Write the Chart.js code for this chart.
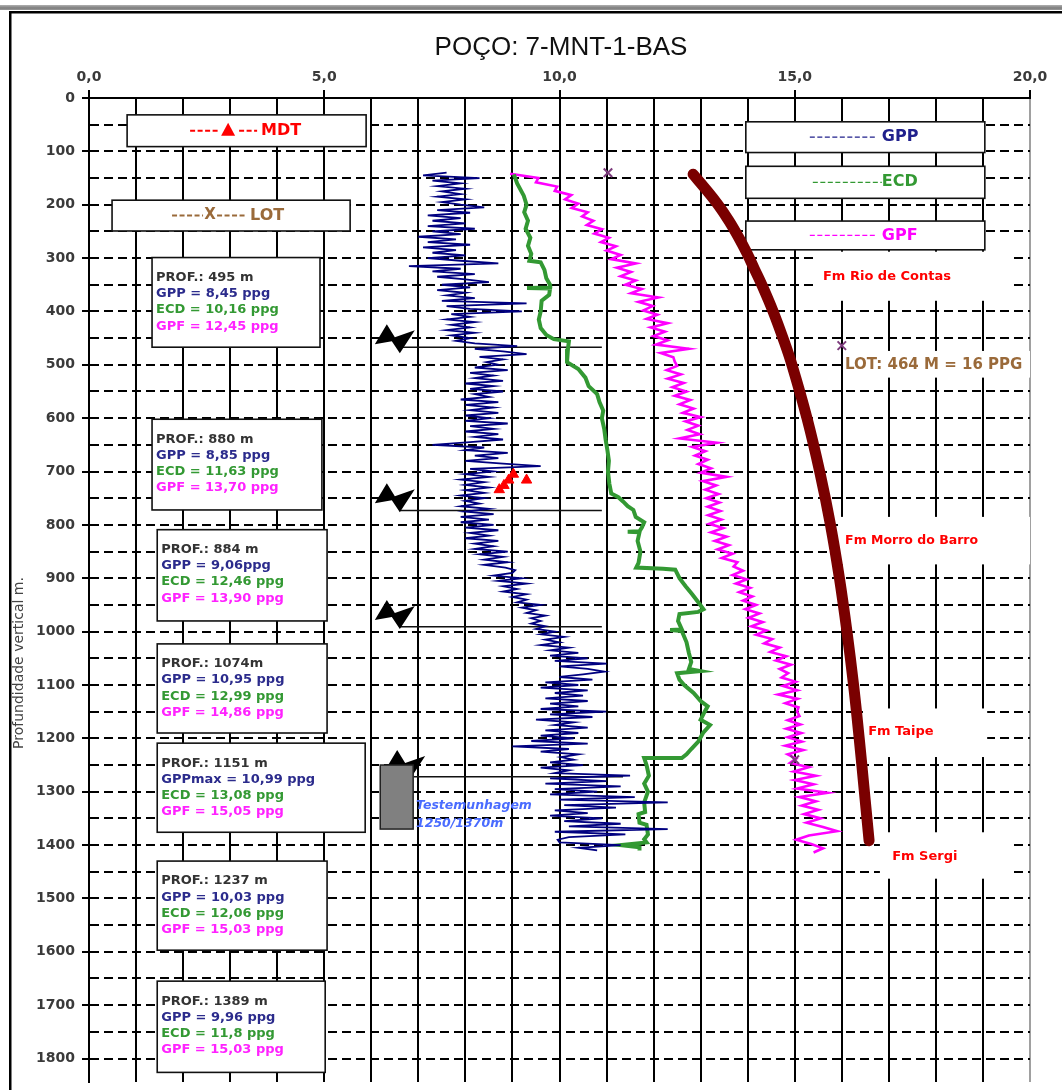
<!DOCTYPE html>
<html>
<head>
<meta charset="utf-8">
<script src="https://cdn.jsdelivr.net/npm/chart.js@4/dist/chart.umd.min.js"></script>
<style>
html, body { margin: 0; padding: 0; background: #fff; overflow: hidden; }
#wrap { width: 1062px; height: 1090px; }
</style>
</head>
<body>
<div id="wrap"><canvas id="well" width="1062" height="1090"></canvas></div>
<script>
// ---- Well 7-MNT-1-BAS : pressure window (ppg) versus vertical depth (m) ----
const chartTitle = 'POÇO: 7-MNT-1-BAS';
const depthAxisTitle = 'Profundidade vertical m.';

// GPP (pore pressure gradient) log, one sample every 5 m from 140 m
const gppTopM = 140, gppStepM = 5;
const gppPpg = [
  7.6, 7.1, 8.3, 7.3, 7.9, 7.4, 8.0, 7.5, 7.9, 7.4,
  8.0, 7.5, 7.9, 8.4, 7.4, 8.1, 7.2, 7.9, 7.3, 8.0,
  7.2, 8.2, 7.3, 7.9, 7.0, 7.8, 7.2, 8.1, 7.1, 7.8,
  7.3, 8.0, 7.2, 7.9, 8.7, 6.8, 7.9, 7.3, 8.2, 7.4,
  8.0, 8.5, 7.5, 8.1, 7.4, 8.0, 7.6, 8.2, 7.5, 9.3,
  7.6, 8.1, 9.2, 7.7, 8.1, 7.6, 8.2, 7.7, 8.1, 7.6,
  8.2, 7.7, 8.1, 7.8, 8.2, 9.1, 8.2, 8.8, 9.3, 8.3,
  8.8, 8.45, 8.7, 8.2, 8.9, 8.1, 8.6, 8.2, 8.8, 8.0,
  8.6, 8.1, 8.8, 8.2, 8.5, 7.9, 8.7, 8.0, 8.6, 8.1,
  8.7, 8.0, 8.5, 8.0, 8.9, 8.1, 8.6, 8.0, 8.7, 8.2,
  8.8, 8.1, 7.3, 8.4, 8.0, 8.9, 8.2, 8.7, 8.0, 8.8,
  9.6, 8.1, 8.6, 8.0, 8.5, 7.9, 8.4, 8.0, 8.5, 8.0,
  8.4, 7.9, 8.4, 8.0, 8.3, 7.9, 8.5, 8.0, 8.6, 7.9,
  8.5, 7.9, 8.6, 8.0, 8.7, 8.1, 8.5, 8.0, 8.7, 8.2,
  8.6, 8.2, 8.9, 8.3, 8.8, 8.4, 8.9, 8.4, 8.85, 9.06,
  9.0, 8.6, 9.2, 8.7, 9.3, 8.8, 9.1, 8.8, 9.3, 9.0,
  9.3, 9.1, 9.6, 9.2, 9.5, 9.3, 9.7, 9.4, 9.6, 9.4,
  9.7, 9.5, 9.9, 9.6, 10.1, 9.7, 10.0, 9.6, 10.2, 9.8,
  10.4, 9.8, 10.6, 9.9, 11.0, 10.0, 10.6, 10.95, 10.5, 10.0,
  10.7, 9.7, 10.4, 9.6, 10.6, 9.9, 10.5, 9.7, 10.6, 9.8,
  10.4, 9.6, 10.99, 9.8, 10.7, 9.5, 10.3, 9.9, 10.6, 9.7,
  10.4, 9.6, 10.3, 9.4, 10.6, 9.0, 10.2, 9.6, 10.4, 10.03,
  10.3, 9.8, 10.5, 9.6, 10.2, 9.9, 11.5, 9.8, 11.0, 9.7,
  11.3, 9.9, 10.8, 9.8, 11.6, 10.0, 12.3, 10.1, 11.2, 9.9,
  10.6, 9.8, 10.9, 10.1, 11.3, 10.2, 12.3, 9.9, 11.4, 10.2,
  9.96, 10.0, 11.3, 10.4, 10.8
];

// GPF (fracture gradient) log, one sample every 8 m from 142 m
const gpfTopM = 142, gpfStepM = 8;
const gpfPpg = [
  8.95, 9.55, 9.5, 9.95, 9.9, 10.25, 10.12, 10.4, 10.26, 10.6,
  10.48, 10.72, 10.58, 10.9, 10.74, 11.05, 10.88, 11.2, 11.0, 11.3,
  11.1, 11.62, 11.22, 11.52, 11.3, 11.62, 11.4, 11.75, 11.52, 12.1,
  11.68, 11.98, 11.78, 12.08, 11.85, 12.3, 11.94, 12.24, 12.0, 12.3,
  12.05, 12.75, 12.15, 12.42, 12.45, 12.5, 12.28, 12.58, 12.3, 12.64,
  12.4, 12.7, 12.45, 12.78, 12.55, 12.85, 12.62, 13.0, 12.68, 12.95,
  12.72, 12.98, 12.55, 13.35, 12.82, 13.1, 12.88, 13.15, 12.95, 13.22,
  13.0, 13.55, 13.05, 13.33, 13.1, 13.38, 13.12, 13.4, 13.15, 13.42,
  13.16, 13.44, 13.18, 13.48, 13.22, 13.55, 13.3, 13.6, 13.36, 13.68,
  13.45, 13.78, 13.7, 13.9, 13.68, 13.98, 13.75, 14.05, 13.82, 14.1,
  13.9, 14.18, 13.95, 14.25, 14.02, 14.32, 14.08, 14.4, 14.18, 14.52,
  14.35, 14.68, 14.48, 14.82, 14.6, 14.92, 14.68, 14.86, 14.72, 15.02,
  14.75, 15.05, 14.65, 15.06, 14.8, 15.08, 15.05, 15.1, 14.85, 15.12,
  14.82, 15.14, 14.85, 15.15, 14.8, 15.18, 14.85, 15.03, 14.9, 15.3,
  14.98, 15.45, 15.0, 15.4, 15.05, 15.7, 15.1, 15.45, 15.15, 15.5,
  15.2, 15.55, 15.25, 15.6, 15.9, 15.3, 15.03, 15.35, 15.6, 15.4
];

// ECD (equivalent circulating density) profile: [depth m, ppg]
const ecdProfile = [
  [143, 9.03], [160, 9.1], [183, 9.24], [200, 9.3], [214, 9.25], [230, 9.33], [245, 9.28],
  [262, 9.38], [277, 9.33], [292, 9.4], [305, 9.36], [308, 9.6], [322, 9.68], [338, 9.72],
  [350, 9.8], [355, 9.8], [356, 9.31], [357, 9.8], [369, 9.78], [380, 9.62], [400, 9.6],
  [415, 9.56], [431, 9.6], [444, 9.72], [452, 9.88], [456, 10.2], [470, 10.18], [495, 10.16],
  [508, 10.4], [524, 10.55], [540, 10.62], [555, 10.8], [570, 10.85], [586, 10.93], [600, 10.9],
  [620, 10.95], [640, 10.98], [661, 11.02], [680, 11.05], [700, 11.03], [723, 11.06], [741, 11.1],
  [748, 11.25], [756, 11.35], [765, 11.45], [772, 11.57], [785, 11.62], [795, 11.8], [805, 11.75],
  [812, 11.7], [813, 11.45], [814, 11.7], [830, 11.66], [850, 11.72], [871, 11.68], [880, 11.63],
  [882, 12.2], [884, 12.46], [900, 12.55], [915, 12.68], [930, 12.82], [945, 12.95], [958, 13.06],
  [963, 12.95], [967, 12.55], [980, 12.52], [996, 12.6], [997, 12.35], [999, 12.6], [1020, 12.7],
  [1040, 12.75], [1057, 12.8], [1070, 12.75], [1074, 12.99], [1078, 12.5], [1090, 12.55],
  [1100, 12.65], [1115, 12.85], [1130, 13.0], [1140, 13.15], [1151, 13.08], [1165, 13.0],
  [1175, 13.2], [1190, 13.05], [1206, 12.95], [1220, 12.8], [1230, 12.7], [1237, 12.6],
  [1237, 12.06], [1237, 11.8], [1250, 11.85], [1270, 11.9], [1285, 11.8], [1300, 11.88],
  [1320, 11.8], [1338, 11.82], [1342, 11.68], [1358, 11.7], [1362, 11.85], [1380, 11.88],
  [1389, 11.8], [1395, 11.85], [1400, 11.3], [1404, 11.7], [1410, 11.7]
];

// Overburden gradient curve: [depth m, ppg]
const overburden = [
  [143, 12.84], [170, 13.1], [200, 13.37], [230, 13.6], [260, 13.8], [290, 13.98],
  [320, 14.14], [350, 14.3], [400, 14.54], [450, 14.75], [500, 14.94], [600, 15.26],
  [700, 15.53], [800, 15.76], [900, 15.95], [1000, 16.11], [1100, 16.25], [1200, 16.37],
  [1300, 16.48], [1392, 16.58]
];

// Leak-off tests and MDT pressure points
const lotDepthM = [140, 464, 1240];
const lotPpg = [11.03, 16.0, 15.0];
const mdtDepthM = [734, 726, 716, 705, 716];
const mdtPpg = [8.72, 8.82, 8.92, 9.02, 9.3];

// Casing shoes
const shoeDepthM = [467, 773, 991, 1272];
const shoeLineFromPpg = [6.6, 6.6, 6.6, 6.9];
const shoeLineToPpg = [10.9, 10.9, 10.9, 11.35];

// Coring interval
const coreTopM = 1250, coreBaseM = 1370;

const TXT = '"DejaVu Sans", Verdana, sans-serif';

// Annotation layout, expressed in chart units (ppg, m)
const infoBoxes = [
  { x0: 1.34, x1: 4.91, d0: 299, d1: 467, lines: ['PROF.: 495 m', 'GPP = 8,45 ppg', 'ECD = 10,16 ppg', 'GPF = 12,45 ppg'] },
  { x0: 1.34, x1: 4.95, d0: 602, d1: 772, lines: ['PROF.: 880 m', 'GPP = 8,85 ppg', 'ECD = 11,63 ppg', 'GPF = 13,70 ppg'] },
  { x0: 1.45, x1: 5.06, d0: 809, d1: 980, lines: ['PROF.: 884 m', 'GPP = 9,06ppg', 'ECD = 12,46 ppg', 'GPF = 13,90 ppg'] },
  { x0: 1.45, x1: 5.06, d0: 1023, d1: 1190, lines: ['PROF.: 1074m', 'GPP = 10,95 ppg', 'ECD = 12,99 ppg', 'GPF = 14,86 ppg'] },
  { x0: 1.45, x1: 5.87, d0: 1209, d1: 1376, lines: ['PROF.: 1151 m', 'GPPmax = 10,99 ppg', 'ECD = 13,08 ppg', 'GPF = 15,05 ppg'] },
  { x0: 1.45, x1: 5.06, d0: 1430, d1: 1597, lines: ['PROF.: 1237 m', 'GPP = 10,03 ppg', 'ECD = 12,06 ppg', 'GPF = 15,03 ppg'] },
  { x0: 1.45, x1: 5.02, d0: 1655, d1: 1826, lines: ['PROF.: 1389 m', 'GPP = 9,96 ppg', 'ECD = 11,8 ppg', 'GPF = 15,03 ppg'] }
];
const infoLineColors = ['#333333', '#2b2b8c', '#339933', '#ff22ff'];

const legendBoxes = [
  { x0: 0.81, x1: 5.89, d0: 31.6, d1: 91.1, label: 'MDT', color: '#ff0000', dashes: [[63, 91], [112, 130]], marker: 'triangle', markerAt: 101, textAt: 134, lw: 2 },
  { x0: 0.49, x1: 5.55, d0: 191.5, d1: 249.2, label: 'LOT', color: '#9a6a3a', dashes: [[60, 91], [105, 135]], marker: 'X', markerAt: 98, textAt: 138, lw: 2 },
  { x0: 13.96, x1: 19.04, d0: 44.6, d1: 102.2, label: 'GPP', color: '#20208c', dashes: [[64, 131]], textAt: 136, lw: 1.3 },
  { x0: 13.96, x1: 19.04, d0: 128, d1: 188, label: 'ECD', color: '#339933', dashes: [[67, 136]], textAt: 136, lw: 1.3 },
  { x0: 13.96, x1: 19.04, d0: 230.6, d1: 284.5, label: 'GPF', color: '#ff00ff', dashes: [[64, 131]], textAt: 136, lw: 1.3 }
];

const formationNotes = [
  { text: 'Fm Rio de Contas', x: 15.6, d: 335, color: '#ff0000', size: 13, patch: [15.47, 19.62, 288, 380] },
  { text: 'LOT: 464 M = 16 PPG', x: 16.07, d: 500, color: '#9a6a3a', size: 15, patch: [16.03, 20.0, 474, 524] },
  { text: 'Fm Morro do Barro', x: 16.07, d: 830, color: '#ff0000', size: 12.5, patch: [15.92, 20.0, 785, 874] },
  { text: 'Fm Taipe', x: 16.56, d: 1188, color: '#ff0000', size: 13, patch: [16.45, 19.09, 1144, 1235] },
  { text: 'Fm Sergi', x: 17.07, d: 1421, color: '#ff0000', size: 13, patch: [16.81, 19.62, 1376, 1463] }
];

const shoeSymbols = [
  { x: 6.5, d: 450 }, { x: 6.5, d: 748 }, { x: 6.5, d: 967 }, { x: 6.72, d: 1248 }
];

function pts(depths, values) { return values.map((v, i) => ({ x: v, y: depths[i] })); }

const gppPoints = gppPpg.map((v, i) => ({ x: v, y: gppTopM + i * gppStepM }));
const gpfPoints = gpfPpg.map((v, i) => ({ x: v, y: gpfTopM + i * gpfStepM }));
const ecdPoints = ecdProfile.map(p => ({ x: p[1], y: p[0] }));
const obPoints = overburden.map(p => ({ x: p[1], y: p[0] }));

const shoeDatasets = shoeDepthM.map((d, i) => ({
  data: [{ x: shoeLineFromPpg[i], y: d }, { x: shoeLineToPpg[i], y: d }],
  borderColor: '#111', borderWidth: 1.4, pointRadius: 0, tension: 0
}));

const sheetPlugin = {
  id: 'wellSheet',
  beforeDraw(chart) {
    const c = chart.ctx;
    c.save();
    c.fillStyle = '#fff';
    c.fillRect(0, 0, chart.width, chart.height);
    // page header band and frame
    const g = c.createLinearGradient(0, 5, 0, 11);
    g.addColorStop(0, '#b0b0b0'); g.addColorStop(0.5, '#7c7c7c'); g.addColorStop(1, '#a8a8a8');
    c.fillStyle = g;
    c.fillRect(0, 5, chart.width, 5);
    c.fillStyle = '#000';
    c.fillRect(9, 11, chart.width - 9, 2.5);
    c.fillRect(9, 11, 2.5, chart.height - 11);
    // title
    c.fillStyle = '#111';
    c.font = '26px "Liberation Sans", Arial, sans-serif';
    c.textAlign = 'center';
    c.textBaseline = 'middle';
    c.fillText(chartTitle, 561, 48);
    // depth axis title
    c.translate(19, 663);
    c.rotate(-Math.PI / 2);
    c.font = '14px ' + TXT;
    c.fillStyle = '#444';
    c.fillText(depthAxisTitle, 0, 0);
    c.restore();
  },
  beforeDatasetsDraw(chart) {
    const c = chart.ctx;
    const X = v => chart.scales.x.getPixelForValue(v);
    const Y = d => chart.scales.y.getPixelForValue(d);
    c.save();
    // white patches behind the formation names
    c.fillStyle = '#fff';
    formationNotes.forEach(n => {
      const [a, b, d0, d1] = n.patch;
      c.fillRect(X(a), Y(d0), X(b) - X(a), Y(d1) - Y(d0));
    });
    const frame = (x, y, w, h) => {
      c.fillStyle = '#fff';
      c.fillRect(x, y, w, h);
      c.lineWidth = 1.6;
      c.strokeStyle = '#111';
      c.strokeRect(x, y, w, h);
    };
    // summary boxes at the key depths
    infoBoxes.forEach(b => {
      const x = X(b.x0), y = Y(b.d0);
      frame(x, y, X(b.x1) - x, Y(b.d1) - y);
      c.font = 'bold 13px ' + TXT;
      c.textAlign = 'left';
      c.textBaseline = 'middle';
      b.lines.forEach((t, i) => {
        c.fillStyle = infoLineColors[i];
        c.fillText(t, x + 4, y + 20 + i * 16.2);
      });
    });
    // legend boxes
    legendBoxes.forEach(b => {
      const x = X(b.x0), y = Y(b.d0), h = Y(b.d1) - y;
      frame(x, y, X(b.x1) - x, h);
      const cy = y + h / 2;
      c.strokeStyle = b.color;
      c.lineWidth = b.lw;
      c.setLineDash([5, 2.5]);
      b.dashes.forEach(([s, e]) => {
        c.beginPath(); c.moveTo(x + s, cy); c.lineTo(x + e, cy); c.stroke();
      });
      c.setLineDash([]);
      c.fillStyle = b.color;
      if (b.marker === 'triangle') {
        const mx = x + b.markerAt;
        c.beginPath(); c.moveTo(mx, cy - 8); c.lineTo(mx + 7, cy + 5); c.lineTo(mx - 7, cy + 5); c.closePath(); c.fill();
      } else if (b.marker === 'X') {
        c.font = 'bold 15px ' + TXT;
        c.textAlign = 'center'; c.textBaseline = 'middle';
        c.fillText('X', x + b.markerAt, cy);
      }
      c.font = 'bold 16px ' + TXT;
      c.textAlign = 'left'; c.textBaseline = 'middle';
      c.fillText(b.label, x + b.textAt, cy);
    });
    c.restore();
  },
  afterDatasetsDraw(chart) {
    const c = chart.ctx;
    const X = v => chart.scales.x.getPixelForValue(v);
    const Y = d => chart.scales.y.getPixelForValue(d);
    c.save();
    // formation names
    formationNotes.forEach(n => {
      c.font = 'bold ' + n.size + 'px ' + TXT;
      c.fillStyle = n.color;
      c.textAlign = 'left'; c.textBaseline = 'middle';
      c.fillText(n.text, X(n.x), Y(n.d));
    });
    // casing shoe symbols
    c.fillStyle = '#000';
    shoeSymbols.forEach(s => {
      const cx = X(s.x), cy = Y(s.d);
      const poly = [[-20, 6], [-8, -14], [0, -1], [20, -8], [5, 15], [-3, 3]];
      c.beginPath();
      poly.forEach(([dx, dy], i) => i ? c.lineTo(cx + dx, cy + dy) : c.moveTo(cx + dx, cy + dy));
      c.closePath();
      c.fill();
    });
    // coring interval
    const rx = X(6.19), ry = Y(coreTopM);
    c.fillStyle = '#808080';
    c.fillRect(rx, ry, X(6.89) - rx, Y(coreBaseM) - ry);
    c.lineWidth = 1.5; c.strokeStyle = '#222';
    c.strokeRect(rx, ry, X(6.89) - rx, Y(coreBaseM) - ry);
    c.font = 'italic bold 12.5px ' + TXT;
    c.fillStyle = '#4a6cff';
    c.textAlign = 'left'; c.textBaseline = 'middle';
    c.fillText('Testemunhagem', X(6.95), Y(1326));
    c.fillText(coreTopM + '/' + coreBaseM + 'm', X(6.95), Y(1360));
    c.restore();
  }
};

new Chart(document.getElementById('well'), {
  type: 'line',
  data: {
    datasets: [
      { label: 'MDT', data: pts(mdtDepthM, mdtPpg), showLine: false, pointStyle: 'triangle', pointRadius: 6,
        pointBackgroundColor: '#ff0000', pointBorderColor: '#ff0000' },
      { label: 'LOT', data: pts(lotDepthM, lotPpg), showLine: false, pointStyle: 'crossRot', pointRadius: 6,
        pointBorderColor: '#7d3c7d', pointBorderWidth: 2 },
      { label: 'GPP', data: gppPoints, borderColor: '#000080', borderWidth: 1.8, pointRadius: 0, tension: 0 },
      { label: 'ECD', data: ecdPoints, borderColor: '#339933', borderWidth: 4, pointRadius: 0, tension: 0 },
      { label: 'GPF', data: gpfPoints, borderColor: '#ff00ff', borderWidth: 2.6, pointRadius: 0, tension: 0 },
      { label: 'Sobrecarga', data: obPoints, borderColor: '#7a0000', borderWidth: 11, pointRadius: 0,
        tension: 0.4, borderCapStyle: 'round', borderJoinStyle: 'round' },
      ...shoeDatasets
    ]
  },
  options: {
    responsive: false,
    devicePixelRatio: 1,
    animation: false,
    layout: { padding: { left: 0, top: 0, right: 32, bottom: 0 } },
    plugins: { legend: { display: false }, tooltip: { enabled: false }, title: { display: false } },
    scales: {
      x: {
        type: 'linear', position: 'top', min: 0, max: 20,
        ticks: {
          stepSize: 1, autoSkip: false, maxRotation: 0, padding: 4,
          font: { family: TXT, size: 14, weight: 'bold' }, color: '#3a3a3a',
          callback: v => (v % 5 === 0 ? v.toFixed(1).replace('.', ',') : '')
        },
        grid: {
          color: c => (c.tick && c.tick.value === 20 ? '#a0a0a0' : '#000'),
          lineWidth: 2, tickLength: 8, tickWidth: 2,
          tickColor: c => (c.tick && c.tick.value % 5 === 0 ? '#000' : 'rgba(0,0,0,0)')
        },
        border: { display: true, color: '#000', width: 2 },
        afterFit: s => { s.height = 98; s.paddingLeft = 0; s.paddingRight = 0; }
      },
      y: {
        type: 'linear', reverse: true, min: 0, max: 1844,
        afterBuildTicks: s => { s.ticks = s.ticks.filter(t => t.value % 50 === 0); },
        ticks: {
          stepSize: 50, autoSkip: false, padding: 7,
          font: { family: TXT, size: 14, weight: 'bold' }, color: '#3a3a3a',
          callback: v => (v % 100 === 0 ? String(v) : '')
        },
        grid: {
          color: '#000', lineWidth: 2, tickLength: 7, tickWidth: 2, tickBorderDash: [],
          tickColor: c => (c.tick && c.tick.value % 100 === 0 ? '#000' : 'rgba(0,0,0,0)')
        },
        border: { display: true, color: '#000', width: 2, dash: [9, 5] },
        afterFit: s => { s.width = 89; s.paddingTop = 0; s.paddingBottom = 0; }
      }
    }
  },
  plugins: [sheetPlugin]
});
</script>
</body>
</html>
